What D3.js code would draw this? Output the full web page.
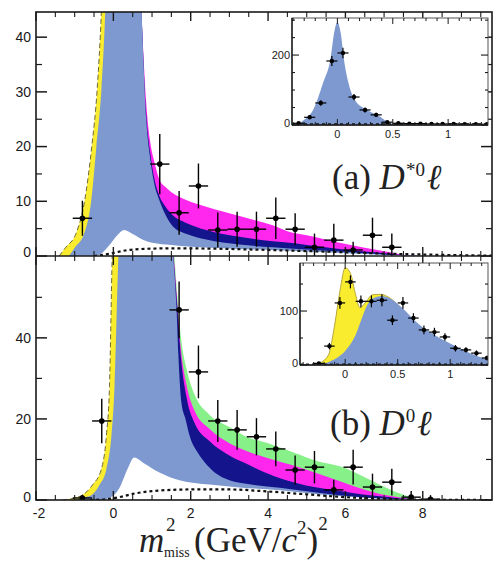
<!DOCTYPE html>
<html>
<head>
<meta charset="utf-8">
<script src="https://cdn.jsdelivr.net/npm/d3@7"></script>
<style>
  html, body { margin: 0; padding: 0; background: #fff; }
  svg { display: block; }
</style>
</head>
<body>
<svg id="chart" width="495" height="562"></svg>
<script>
// ---------------- data ----------------
// main x axis (m^2_miss in GeV^2/c^4)
const xTickLabels = ["-2", "0", "2", "4", "6", "8"];
const binHalfWidth = 0.25;

// panel (a): D*0 l
const aYTicks = [0, 10, 20, 30, 40];
const aYMinorTicks = [5, 15, 25, 35];
const aBinCenters = [-0.8, 1.2, 1.7, 2.2, 2.7, 3.2, 3.7, 4.2, 4.7, 5.2, 5.7, 6.2, 6.7, 7.2];
const aCounts     = [6.9, 16.8, 7.9, 12.8, 4.75, 4.9, 4.9, 6.9, 4.9, 1.6, 2.9, 1.1, 3.8, 1.6];
const aErrors     = [3.2, 5.5, 4.0, 4.1, 3.2, 3.2, 3.2, 3.8, 2.9, 2.5, 3.0, 1.5, 3.2, 2.5];
const aYellow  = [[-1.4,0],[-1.24,1.5],[-0.96,4.2],[-0.74,10.2],[-0.56,19.9],[-0.42,30.3],[-0.31,44.6],[-0.15,80],[0.1,120]];
const aBlue    = [[-1.15,0],[-1.0,1.5],[-0.75,4.2],[-0.57,10.2],[-0.44,19.9],[-0.31,30.3],[-0.21,44.6],[-0.05,90],[0.25,150],[0.5,90],[0.73,44.6],[0.85,25],[0.95,18],[1.05,13.5],[1.19,10.2],[1.35,7.5],[1.53,5.5],[1.9,4.0],[2.4,3.0],[3.26,2.1],[4.12,1.6],[5.0,1.2],[5.85,0.8],[6.5,0.5],[7.15,0.2],[7.6,0.05],[8.2,0]];
const aNavy    = [[0.72,46],[0.85,26],[0.95,19],[1.05,14.5],[1.19,11],[1.35,9],[1.53,7.5],[1.9,6],[2.4,4.75],[3.26,3.5],[4.12,2.7],[4.56,2.4],[5.0,2.0],[5.85,1.3],[6.5,0.8],[7.15,0.4],[7.6,0.1],[8.0,0]];
const aMagenta = [[0.71,47],[0.85,28],[0.95,21],[1.05,17.5],[1.19,14.0],[1.35,12.6],[1.53,11.5],[1.9,10.2],[2.4,9.0],[3.26,7.3],[4.12,5.6],[4.56,4.4],[5.0,3.8],[5.85,2.4],[6.5,1.5],[7.15,0.7],[7.6,0.15],[7.9,0]];
const aWhite   = [[-0.5,0],[-0.3,0.5],[-0.1,2],[0.1,3.8],[0.28,4.75],[0.5,4.0],[0.75,3.0],[1.0,2.4],[1.5,2.0],[2.0,1.7],[2.5,1.5],[3.26,1.3],[4.1,1.1],[5.0,0.8],[6.0,0.5],[7.0,0.2],[8.0,0]];
const aDashed  = [[-0.5,0],[-0.1,0.4],[0.3,1.0],[0.8,1.3],[1.5,1.4],[2.5,1.35],[3.5,1.2],[4.5,1.0],[5.5,0.8],[6.5,0.55],[7.5,0.35],[8.5,0.2],[9.8,0.05]];

// panel (b): D0 l
const bYTicks = [0, 20, 40];
const bYMinorTicks = [10, 30, 50];
const bBinCenters = [-0.8, -0.3, 1.7, 2.2, 2.7, 3.2, 3.7, 4.2, 4.7, 5.2, 5.7, 6.2, 6.7, 7.2, 7.7, 8.2];
const bCounts     = [0.5, 19.5, 46.9, 31.6, 19.5, 17.3, 15.6, 12.6, 7.4, 8.1, 2.5, 8.1, 3.2, 4.4, 0.7, 0.2];
const bErrors     = [0.8, 5.5, 7.0, 6.5, 5.2, 4.9, 4.6, 4.3, 3.6, 4.0, 2.5, 4.3, 3.3, 3.3, 1.5, 1.0];
const bYellow  = [[-1.32,0],[-1.0,0.5],[-0.8,1.2],[-0.54,3.7],[-0.31,7.6],[-0.18,15.9],[-0.10,28],[-0.03,60.2],[0.1,90],[0.3,120]];
const bBlue    = [[-1.0,0],[-0.8,0.6],[-0.57,1.2],[-0.36,3.7],[-0.18,7.6],[-0.05,15.9],[0.03,28],[0.13,60.2],[0.4,100],[0.85,140],[1.3,100],[1.55,60.2],[1.63,48],[1.68,36],[1.76,24],[1.87,19.8],[1.97,15.9],[2.18,11.7],[2.36,9.3],[2.62,6.8],[3.0,4.9],[3.52,3.9],[4.3,3.0],[5.3,1.8],[6.4,0.7],[7.5,0.1],[8.0,0]];
const bNavy    = [[1.53,63],[1.65,48],[1.75,35],[1.9,25],[2.1,19],[2.49,14.5],[3.0,11],[3.36,9.3],[4.0,6.5],[4.66,4.4],[5.3,3.0],[5.86,2.2],[6.5,1.3],[6.9,0.9],[7.3,0.5],[7.6,0.3],[8.0,0.1],[8.2,0]];
const bMagenta = [[1.54,63],[1.65,49],[1.75,37],[1.9,28],[2.1,22],[2.49,17.5],[3.0,14],[3.36,12.4],[4.0,10.3],[4.66,8.5],[5.3,6.5],[5.86,4.6],[6.5,2.5],[6.9,1.5],[7.3,0.8],[7.6,0.4],[8.0,0.1],[8.15,0]];
const bGreen   = [[1.55,64],[1.65,51],[1.75,40],[1.9,32],[2.1,26],[2.49,21],[3.0,18],[3.36,16],[4.0,14],[4.66,11.7],[5.3,9.5],[5.86,8.3],[6.5,5.6],[6.9,3.7],[7.3,2.0],[7.6,1.0],[7.8,0.3],[7.9,0]];
const bWhite   = [[-0.35,0],[-0.1,0.5],[0.16,3],[0.36,7.5],[0.54,10.5],[0.8,9],[1.19,6.8],[1.71,4.9],[2.49,3.8],[3.26,3.1],[4.3,2.4],[5.3,1.4],[6.4,0.6],[7.5,0.1],[8.0,0]];
const bDashed  = [[-0.6,0],[-0.2,0.2],[0.2,0.8],[0.5,1.5],[1.0,2.2],[2.0,2.6],[3.0,2.6],[4.0,2.1],[5.0,1.4],[6.0,0.7],[7.0,0.3],[8.0,0.05],[9.8,0]];

// inset (a): zoom on the signal peak
const iaXTickLabels = ["0", "0.5", "1"];
const iaYTicks = [0, 200];
const iaBinCenters = [-0.35,-0.25,-0.15,-0.05,0.05,0.15,0.25,0.35,0.45,0.55,0.65,0.75,0.85,0.95,1.05,1.15,1.25,1.35];
const iaCounts     = [5, 22, 63, 183, 206, 80, 43, 29, 8, 5, 4, 4, 3, 3, 3, 2, 2, 2];
const iaErrors     = [3, 5, 8, 14, 15, 9, 7, 6, 3, 2, 2, 2, 2, 2, 2, 2, 2, 2];
const iaBlue   = [[-0.41,0],[-0.38,1],[-0.3,15],[-0.22,43],[-0.13,120],[-0.06,194],[-0.03,263],[0,294],[0.03,263],[0.06,186],[0.1,120],[0.16,71],[0.27,43],[0.39,23],[0.45,9],[0.5,3],[0.6,1],[1.36,0]];
const iaDashed = [[-0.41,2],[1.36,2]];

// inset (b)
const ibXTickLabels = ["0", "0.5", "1"];
const ibYTicks = [0, 100];
const ibBinCenters = [-0.25,-0.15,-0.05,0.05,0.15,0.25,0.35,0.45,0.55,0.65,0.75,0.85,0.95,1.05,1.15,1.25,1.35];
const ibCounts     = [3, 35, 115, 154, 118, 118, 120, 83, 115, 87, 65, 61, 52, 31, 28, 22, 13];
const ibErrors     = [2, 6, 11, 12, 11, 11, 11, 9, 11, 9, 8, 8, 7, 6, 5, 5, 4];
const ibYellow = [[-0.3,0],[-0.26,2],[-0.16,18],[-0.1,74],[-0.05,137],[0,180],[0.05,170],[0.1,130],[0.14,106],[0.19,115],[0.26,130],[0.33,131],[0.41,126],[0.5,112]];
const ibBlue   = [[-0.25,0],[-0.15,6],[-0.05,17],[0,26],[0.1,56],[0.16,87],[0.21,111],[0.27,124],[0.35,128],[0.42,124],[0.52,110],[0.71,74],[0.9,50],[1.0,40],[1.19,22],[1.36,10]];
const ibDashed = [[-0.43,1],[1.36,1]];

// ---------------- styles ----------------
const COL = {
  blue: "#7d99d0", yellow: "#f9ec2e", magenta: "#ff26ee",
  navy: "#14148c", green: "#88f088", ink: "#1a1a1a"
};
const TICK_FONT = "'Liberation Sans', 'DejaVu Sans', sans-serif";
const SERIF = "'Liberation Serif', 'DejaVu Serif', serif";

// ---------------- scales ----------------
const L = 36, R = 492, TOP = 12, MID = 256, BOT = 500;
const x  = d3.scaleLinear().domain([-2, 9.79]).range([L, R]);
const yA = d3.scaleLinear().domain([0, 44.6]).range([MID, TOP]);
const yB = d3.scaleLinear().domain([0, 60.2]).range([BOT, MID]);

const svg = d3.select("#chart");
const defs = svg.append("defs");

function clipRect(id, x0, y0, x1, y1) {
  defs.append("clipPath").attr("id", id)
    .append("rect").attr("x", x0).attr("y", y0).attr("width", x1 - x0).attr("height", y1 - y0);
  return "url(#" + id + ")";
}

function areaGen(xs, ys) {
  return d3.area().x(d => xs(d[0])).y0(ys(0)).y1(d => ys(d[1])).curve(d3.curveMonotoneX);
}
function lineGen(xs, ys) {
  return d3.line().x(d => xs(d[0])).y(d => ys(d[1])).curve(d3.curveMonotoneX);
}

function drawPoints(g, xs, ys, centers, counts, errors, halfW, r, sw) {
  const pts = centers.map((c, i) => ({ c, v: counts[i], e: errors[i] }));
  const sel = g.selectAll(null).data(pts).enter().append("g");
  sel.append("line")
    .attr("x1", d => xs(d.c - halfW)).attr("x2", d => xs(d.c + halfW))
    .attr("y1", d => ys(d.v)).attr("y2", d => ys(d.v))
    .attr("stroke", "#000").attr("stroke-width", sw);
  sel.append("line")
    .attr("x1", d => xs(d.c)).attr("x2", d => xs(d.c))
    .attr("y1", d => ys(Math.max(0, d.v - d.e))).attr("y2", d => ys(d.v + d.e))
    .attr("stroke", "#000").attr("stroke-width", sw);
  sel.append("circle")
    .attr("cx", d => xs(d.c)).attr("cy", d => ys(d.v)).attr("r", r).attr("fill", "#000");
}

function drawPanel(ys, y0px, y1px, clipId, layers, yellow, white, dashed, centers, counts, errors) {
  const g = svg.append("g").attr("clip-path", clipRect(clipId, L, y1px, R, y0px));
  const area = areaGen(x, ys);
  layers.forEach(l => g.append("path").attr("d", area(l.data)).attr("fill", l.color));
  g.append("path").attr("d", area(yellow)).attr("fill", COL.yellow);
  g.append("path").attr("d", area(layers.blue)).attr("fill", COL.blue);
  g.append("path").attr("d", area(white)).attr("fill", "#fff");
  // outline of the total fit on the rising edge
  g.append("path").attr("d", lineGen(x, ys)(yellow))
    .attr("fill", "none").attr("stroke", "#6e6a3a").attr("stroke-width", 1)
    .attr("stroke-dasharray", "5,3");
  // combinatorial background
  g.append("path").attr("d", lineGen(x, ys)(dashed))
    .attr("fill", "none").attr("stroke", "#111").attr("stroke-width", 2.2)
    .attr("stroke-dasharray", "3,3");
  drawPoints(g, x, ys, centers, counts, errors, binHalfWidth, 2.8, 1.4);
}

const layersA = [{ data: aMagenta, color: COL.magenta }, { data: aNavy, color: COL.navy }];
layersA.blue = aBlue;
drawPanel(yA, MID, TOP, "clipA", layersA, aYellow, aWhite, aDashed, aBinCenters, aCounts, aErrors);

const layersB = [{ data: bGreen, color: COL.green }, { data: bMagenta, color: COL.magenta }, { data: bNavy, color: COL.navy }];
layersB.blue = bBlue;
drawPanel(yB, BOT, MID, "clipB", layersB, bYellow, bWhite, bDashed, bBinCenters, bCounts, bErrors);

// ---------------- frames and ticks ----------------
const axes = svg.append("g").attr("stroke", COL.ink).attr("fill", "none");
axes.append("rect").attr("x", L).attr("y", TOP).attr("width", R - L).attr("height", BOT - TOP)
  .attr("stroke-width", 1.6);
axes.append("line").attr("x1", L).attr("x2", R).attr("y1", MID).attr("y2", MID).attr("stroke-width", 1.6);

function vTicks(ys, major, minor) {
  major.forEach(v => {
    axes.append("line").attr("x1", L).attr("x2", L + 11).attr("y1", ys(v)).attr("y2", ys(v)).attr("stroke-width", 1.5);
    axes.append("line").attr("x1", R).attr("x2", R - 11).attr("y1", ys(v)).attr("y2", ys(v)).attr("stroke-width", 1.5);
  });
  minor.forEach(v => {
    axes.append("line").attr("x1", L).attr("x2", L + 6).attr("y1", ys(v)).attr("y2", ys(v)).attr("stroke-width", 1.2);
    axes.append("line").attr("x1", R).attr("x2", R - 6).attr("y1", ys(v)).attr("y2", ys(v)).attr("stroke-width", 1.2);
  });
}
vTicks(yA, aYTicks, aYMinorTicks);
vTicks(yB, bYTicks, bYMinorTicks);

const xMajor = xTickLabels.map(Number);
const xMinor = d3.range(-1.5, 9.76, 0.5).filter(v => !xMajor.includes(v));
[[TOP, 1], [MID, -1], [MID, 1], [BOT, -1]].forEach(([yy, dir]) => {
  xMajor.forEach(v => axes.append("line").attr("x1", x(v)).attr("x2", x(v))
    .attr("y1", yy).attr("y2", yy + dir * 9).attr("stroke-width", 1.4));
  xMinor.forEach(v => axes.append("line").attr("x1", x(v)).attr("x2", x(v))
    .attr("y1", yy).attr("y2", yy + dir * 5).attr("stroke-width", 1.1));
});

// tick labels
const labels = svg.append("g").attr("font-family", TICK_FONT).attr("font-size", 14).attr("fill", COL.ink);
aYTicks.forEach(v => labels.append("text").attr("x", 31).attr("y", yA(v) - (v === 0 ? 4 : 0))
  .attr("dy", "0.35em").attr("text-anchor", "end").text(String(v)));
bYTicks.forEach(v => labels.append("text").attr("x", 31).attr("y", yB(v) - (v === 0 ? 3 : 0))
  .attr("dy", "0.35em").attr("text-anchor", "end").text(String(v)));
xTickLabels.forEach(t => labels.append("text").attr("x", x(+t) + (t === "-2" ? 3 : 0)).attr("y", 518)
  .attr("text-anchor", "middle").text(t));

// ---------------- insets ----------------
function drawInset(o) {
  const xs = d3.scaleLinear().domain(o.xDomain).range([o.x0, o.x1]);
  const ys = d3.scaleLinear().domain(o.yDomain).range([o.y1, o.y0]);
  svg.append("rect").attr("x", o.x0).attr("y", o.y0).attr("width", o.x1 - o.x0).attr("height", o.y1 - o.y0)
    .attr("fill", "#fff");
  const g = svg.append("g").attr("clip-path", clipRect(o.id, o.x0, o.y0, o.x1, o.y1));
  const area = areaGen(xs, ys);
  if (o.yellow) {
    g.append("path").attr("d", area(o.yellow)).attr("fill", COL.yellow)
      .attr("stroke", "#b8a83c").attr("stroke-width", 1);
  }
  g.append("path").attr("d", area(o.blue)).attr("fill", COL.blue);
  g.append("path").attr("d", d3.line().x(d => xs(d[0])).y(d => ys(d[1]))(o.dashed))
    .attr("fill", "none").attr("stroke", "#111").attr("stroke-width", 2).attr("stroke-dasharray", "3,3");
  drawPoints(g, xs, ys, o.centers, o.counts, o.errors, 0.05, 2.2, 1.2);

  const a = svg.append("g").attr("stroke", COL.ink).attr("fill", "none");
  a.append("rect").attr("x", o.x0).attr("y", o.y0).attr("width", o.x1 - o.x0).attr("height", o.y1 - o.y0)
    .attr("stroke-width", 1).attr("stroke", "#555");
  a.append("line").attr("x1", o.x0).attr("x2", o.x0).attr("y1", o.y0).attr("y2", o.y1).attr("stroke-width", 1.4);
  a.append("line").attr("x1", o.x0).attr("x2", o.x1).attr("y1", o.y1).attr("y2", o.y1).attr("stroke-width", 1.4);
  const xM = o.xLabels.map(Number);
  d3.range(-0.4, 1.36, 0.1).forEach(v => {
    const len = xM.some(m => Math.abs(m - v) < 1e-6) ? 6 : 3;
    a.append("line").attr("x1", xs(v)).attr("x2", xs(v)).attr("y1", o.y1).attr("y2", o.y1 - len).attr("stroke-width", 1);
    a.append("line").attr("x1", xs(v)).attr("x2", xs(v)).attr("y1", o.y0).attr("y2", o.y0 + len).attr("stroke-width", 1);
  });
  d3.range(0, o.yDomain[1], 50).forEach(v => {
    const len = o.yTicks.includes(v) ? 7 : 3;
    a.append("line").attr("x1", o.x0).attr("x2", o.x0 + len).attr("y1", ys(v)).attr("y2", ys(v)).attr("stroke-width", 1.1);
    a.append("line").attr("x1", o.x1).attr("x2", o.x1 - len).attr("y1", ys(v)).attr("y2", ys(v)).attr("stroke-width", 1.1);
  });
  const t = svg.append("g").attr("font-family", TICK_FONT).attr("font-size", 11).attr("fill", COL.ink);
  o.yTicks.forEach(v => t.append("text").attr("x", o.x0 - 2).attr("y", ys(v) - (v === 0 ? 2 : 0))
    .attr("dy", "0.35em").attr("text-anchor", "end").text(String(v)));
  o.xLabels.forEach(s => t.append("text").attr("x", xs(+s)).attr("y", o.y1 + 13)
    .attr("text-anchor", "middle").text(s));
}

drawInset({
  id: "clipIA", x0: 292, x1: 488, y0: 18, y1: 125,
  xDomain: [-0.41, 1.36], yDomain: [0, 306],
  blue: iaBlue, dashed: iaDashed,
  centers: iaBinCenters, counts: iaCounts, errors: iaErrors,
  xLabels: iaXTickLabels, yTicks: iaYTicks
});
drawInset({
  id: "clipIB", x0: 300, x1: 488, y0: 263, y1: 365,
  xDomain: [-0.43, 1.36], yDomain: [0, 189],
  yellow: ibYellow, blue: ibBlue, dashed: ibDashed,
  centers: ibBinCenters, counts: ibCounts, errors: ibErrors,
  xLabels: ibXTickLabels, yTicks: ibYTicks
});

// ---------------- panel captions ----------------
function caption(x0, y0, tag, sup) {
  const t = svg.append("text").attr("x", x0).attr("y", y0)
    .attr("font-family", SERIF).attr("font-size", 35).attr("fill", "#222");
  t.append("tspan").text(tag + " ");
  t.append("tspan").attr("font-style", "italic").text("D");
  t.append("tspan").attr("font-size", 19).attr("dy", -13).attr("dx", 1).text(sup);
  t.append("tspan").attr("font-style", "italic").attr("dy", 13).attr("dx", 2).text("ℓ");
}
caption(332, 189, "(a)", "*0");
caption(330, 435, "(b)", "0");

// ---------------- x axis title ----------------
const title = svg.append("g").attr("font-family", SERIF).attr("fill", "#222");
title.append("text").attr("x", 139).attr("y", 552).attr("font-size", 35).attr("font-style", "italic").text("m");
title.append("text").attr("x", 166).attr("y", 531).attr("font-size", 19).text("2");
title.append("text").attr("x", 164).attr("y", 557).attr("font-size", 14).text("miss");
const tt = title.append("text").attr("x", 194).attr("y", 552).attr("font-size", 35);
tt.append("tspan").text("(GeV/");
tt.append("tspan").attr("font-style", "italic").text("c");
tt.append("tspan").attr("font-size", 19).attr("dy", -18).text("2");
tt.append("tspan").attr("dy", 18).text(")");
tt.append("tspan").attr("font-size", 19).attr("dy", -22).text("2");
</script>
</body>
</html>
